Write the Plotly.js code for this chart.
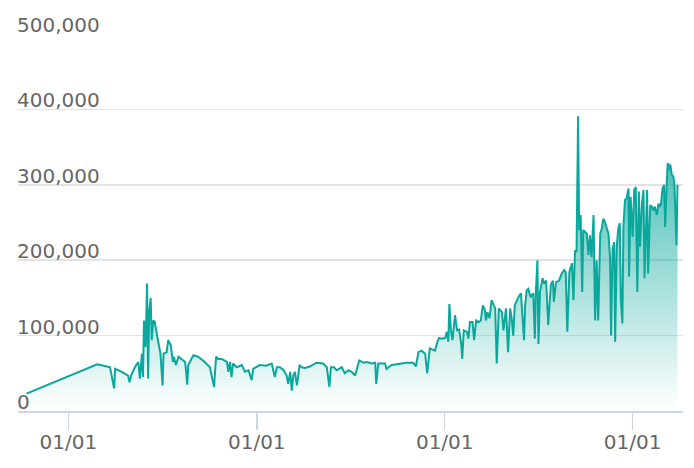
<!DOCTYPE html>
<html>
<head>
<meta charset="utf-8">
<script src="https://cdn.plot.ly/plotly-3.0.1.min.js"></script>
<style>
html,body{margin:0;padding:0;background:#fff;}
#chart{width:694px;height:468px;}
</style>
</head>
<body>
<div id="chart"></div>
<script>
// Day offsets relative to 2016-01-01 and the series values
const startDate = '2016-01-01';
const dayOffsets = [
 -81, 56, 69, 81, 89, 91, 104, 116, 119, 122, 130, 136, 139, 143, 145, 147, 150, 153, 155, 157,
 160, 162, 165, 168, 173, 179, 183, 185, 191, 194, 199, 203, 205, 209, 214, 220, 227, 231, 233, 243,
 249, 252, 265, 275, 283, 287, 291, 298, 308, 311, 314, 317, 320, 327, 337, 343, 350, 356, 359, 372,
 384, 395, 401, 405, 411, 418, 424, 427, 431, 434, 437, 440, 444, 449, 453, 460, 469, 482, 495, 502,
 507, 510, 516, 521, 531, 537, 544, 550, 557, 560, 565, 573, 580, 589, 596, 598, 602, 615, 618, 628,
 644, 657, 670, 675, 680, 686, 693, 697, 702, 709, 712, 717, 720, 725, 732, 735, 738, 740, 743, 746,
 751, 755, 759, 763, 765, 768, 774, 777, 780, 785, 788, 792, 797, 801, 805, 809, 811, 814, 818, 822,
 825, 829, 832, 836, 842, 845, 850, 854, 858, 861, 864, 867, 874, 879, 882, 885, 887, 890, 893, 898,
 903, 906, 908, 911, 913, 916, 921, 924, 928, 932, 937, 941, 943, 947, 953, 958, 963, 966, 969, 973,
 978, 981, 984, 987, 990, 992, 995, 998, 1000, 1003, 1007, 1010, 1013, 1016, 1020, 1023, 1026, 1029, 1033, 1036,
 1039, 1042, 1046, 1049, 1052, 1054, 1057, 1060, 1062, 1065, 1068, 1071, 1073, 1076, 1078, 1081, 1084, 1088, 1089, 1092,
 1096, 1099, 1102, 1105, 1108, 1110, 1114, 1117, 1119, 1122, 1124, 1126, 1130, 1133, 1136, 1139, 1143, 1146, 1149, 1151,
 1154, 1157, 1159, 1162, 1164, 1167, 1169, 1172, 1175, 1177, 1179, 1181, 1183
];
const values = [
 23000, 62000, 60000, 58000, 30000, 56000, 52000, 47000, 38000, 47000, 59000, 65000, 43000, 76000, 45000, 120000, 85000, 169000, 43000, 130000,
 150000, 94000, 120000, 118000, 98000, 76000, 34000, 76000, 78000, 94000, 87000, 65000, 72000, 61000, 72000, 69000, 65000, 35000, 61000, 74000,
 73000, 72000, 65000, 58000, 32000, 72000, 69000, 69000, 65000, 52000, 65000, 45000, 63000, 58000, 61000, 52000, 54000, 41000, 56000, 61000,
 60000, 63000, 45000, 58000, 58000, 54000, 47000, 36000, 52000, 27000, 47000, 52000, 34000, 61000, 58000, 57000, 59000, 64000, 63000, 58000,
 32000, 58000, 58000, 54000, 58000, 50000, 54000, 52000, 47000, 54000, 67000, 64000, 65000, 63000, 64000, 36000, 63000, 63000, 56000, 61000,
 63000, 64000, 64000, 59000, 78000, 80000, 76000, 50000, 83000, 81000, 80000, 92000, 97000, 96000, 97000, 105000, 92000, 142000, 107000, 94000,
 127000, 107000, 108000, 89000, 69000, 107000, 105000, 96000, 118000, 118000, 94000, 120000, 118000, 120000, 140000, 134000, 120000, 131000, 123000, 147000,
 142000, 136000, 63000, 136000, 131000, 107000, 136000, 78000, 136000, 123000, 100000, 140000, 151000, 156000, 125000, 94000, 138000, 160000, 162000, 151000,
 156000, 96000, 158000, 200000, 89000, 158000, 176000, 169000, 173000, 114000, 167000, 173000, 145000, 171000, 173000, 182000, 187000, 184000, 105000, 184000,
 196000, 147000, 213000, 211000, 391000, 240000, 260000, 158000, 240000, 238000, 235000, 207000, 233000, 204000, 260000, 120000, 200000, 120000, 235000, 242000,
 255000, 251000, 242000, 235000, 204000, 100000, 215000, 224000, 92000, 218000, 242000, 249000, 149000, 116000, 244000, 280000, 282000, 295000, 178000, 284000,
 231000, 293000, 297000, 158000, 291000, 218000, 275000, 293000, 176000, 275000, 293000, 182000, 273000, 271000, 266000, 271000, 260000, 275000, 271000, 275000,
 295000, 300000, 244000, 300000, 329000, 320000, 327000, 313000, 311000, 302000, 260000, 220000, 300000
];
const yTickValues = [0, 100000, 200000, 300000, 400000, 500000];

const base = Date.parse(startDate + 'T00:00:00Z');
const dates = dayOffsets.map(d => new Date(base + d * 86400000).toISOString().slice(0, 10));

const lineColor = '#0aa89c';
const fontFamily = 'DejaVu Sans, Verdana, sans-serif';
const trace = {
  x: dates,
  y: values,
  type: 'scatter',
  mode: 'lines',
  line: {color: lineColor, width: 2},
  fill: 'tozeroy',
  fillgradient: {
    type: 'vertical',
    start: 0,
    stop: Math.max(...values),
    colorscale: [[0, 'rgba(10,168,156,0)'], [1, 'rgba(10,168,156,0.85)']]
  },
  hoverinfo: 'skip'
};

const layout = {
  width: 694,
  height: 468,
  margin: {l: 18, r: 11, t: 34, b: 57},
  paper_bgcolor: '#ffffff',
  plot_bgcolor: '#ffffff',
  showlegend: false,
  font: {family: fontFamily, size: 20, color: '#666666'},
  xaxis: {
    type: 'date',
    range: ['2015-09-25 08:00', '2019-04-08 17:00'],
    tick0: '2016-01-01',
    dtick: 'M12',
    tickformat: '%m/%d',
    ticks: 'outside',
    ticklen: 17,
    tickwidth: 1.5,
    tickcolor: '#ccd6eb',
    ticklabelstandoff: -5,
    showline: true,
    linecolor: '#ccd6eb',
    linewidth: 1.5,
    showgrid: false,
    zeroline: false,
    tickfont: {family: fontFamily, size: 20, color: '#666666'}
  },
  yaxis: {
    range: [0, 500000],
    tickvals: yTickValues,
    tickformat: ',d',
    ticklabelposition: 'inside top',
    ticklabeloverflow: 'allow',
    ticklabelshift: 5,
    ticklabelstandoff: -4,
    showgrid: true,
    gridcolor: '#e3e3e3',
    gridwidth: 1.5,
    zeroline: false,
    showline: false,
    ticks: '',
    tickfont: {family: fontFamily, size: 20, color: '#666666'}
  }
};

Plotly.newPlot('chart', [trace], layout, {staticPlot: true, displayModeBar: false});
</script>
</body>
</html>
